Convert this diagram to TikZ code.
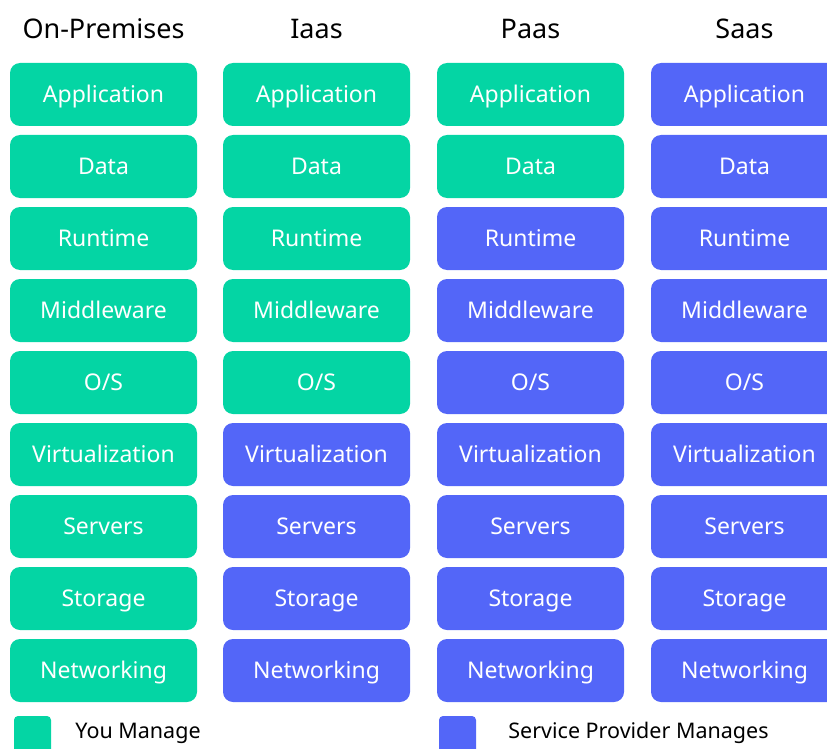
\documentclass[tikz,border=0pt]{standalone}
\usepackage{fontspec}
\setmainfont{Noto Sans}
\usetikzlibrary{positioning}
\definecolor{YouGreen}{RGB}{4, 213, 164}
\definecolor{ProvBlue}{RGB}{83, 102, 248}

\begin{document}
\begin{tikzpicture}[x=1pt, y=-1pt,
    layer/.style={rounded corners=10pt, minimum width=187pt, minimum height=63pt,
        inner sep=0pt, text=white, text height=16.5pt, text depth=0pt,
        font=\fontsize{23}{26}\selectfont},
    head/.style={font=\fontsize{27}{30}\selectfont},
    keybox/.style={rounded corners=4pt, minimum size=37pt, inner sep=0pt},
    keytext/.style={inner sep=0pt, text height=15.5pt, text depth=0pt,
        font=\fontsize{21.5}{24}\selectfont}]

\useasboundingbox (0,0) rectangle (827,749);

% Column 1: On-Premises
\begin{scope}[shift={(103.5,0)}]
    \node[head] (onprem) at (0,28.5) {On-Premises};
    \foreach \name/\col [count=\i from 0] in {Application/YouGreen, Data/YouGreen,
        Runtime/YouGreen, Middleware/YouGreen, {O/S}/YouGreen, Virtualization/YouGreen,
        Servers/YouGreen, Storage/YouGreen, Networking/YouGreen}
        \node[layer, fill=\col] (onprem-\i) at (0,94.5+72*\i) {\name};
\end{scope}

% Column 2: Iaas
\begin{scope}[shift={(316.5,0)}]
    \node[head] (iaas) at (0,28.5) {Iaas};
    \foreach \name/\col [count=\i from 0] in {Application/YouGreen, Data/YouGreen,
        Runtime/YouGreen, Middleware/YouGreen, {O/S}/YouGreen, Virtualization/ProvBlue,
        Servers/ProvBlue, Storage/ProvBlue, Networking/ProvBlue}
        \node[layer, fill=\col] (iaas-\i) at (0,94.5+72*\i) {\name};
\end{scope}

% Column 3: Paas
\begin{scope}[shift={(530.5,0)}]
    \node[head] (paas) at (0,28.5) {Paas};
    \foreach \name/\col [count=\i from 0] in {Application/YouGreen, Data/YouGreen,
        Runtime/ProvBlue, Middleware/ProvBlue, {O/S}/ProvBlue, Virtualization/ProvBlue,
        Servers/ProvBlue, Storage/ProvBlue, Networking/ProvBlue}
        \node[layer, fill=\col] (paas-\i) at (0,94.5+72*\i) {\name};
\end{scope}

% Column 4: Saas
\begin{scope}[shift={(744.5,0)}]
    \node[head] (saas) at (0,28.5) {Saas};
    \foreach \name/\col [count=\i from 0] in {Application/ProvBlue, Data/ProvBlue,
        Runtime/ProvBlue, Middleware/ProvBlue, {O/S}/ProvBlue, Virtualization/ProvBlue,
        Servers/ProvBlue, Storage/ProvBlue, Networking/ProvBlue}
        \node[layer, fill=\col] (saas-\i) at (0,94.5+72*\i) {\name};
\end{scope}

% Legend
\node[keybox, fill=YouGreen] (youkey) at (32.5,734.5) {};
\node[keytext, right=24pt of youkey, yshift=4pt] (youtext) {You Manage};
\node[keybox, fill=ProvBlue] (provkey) at (457.5,734.5) {};
\node[keytext, right=32pt of provkey, yshift=4pt] (provtext) {Service Provider Manages};

\end{tikzpicture}
\end{document}
